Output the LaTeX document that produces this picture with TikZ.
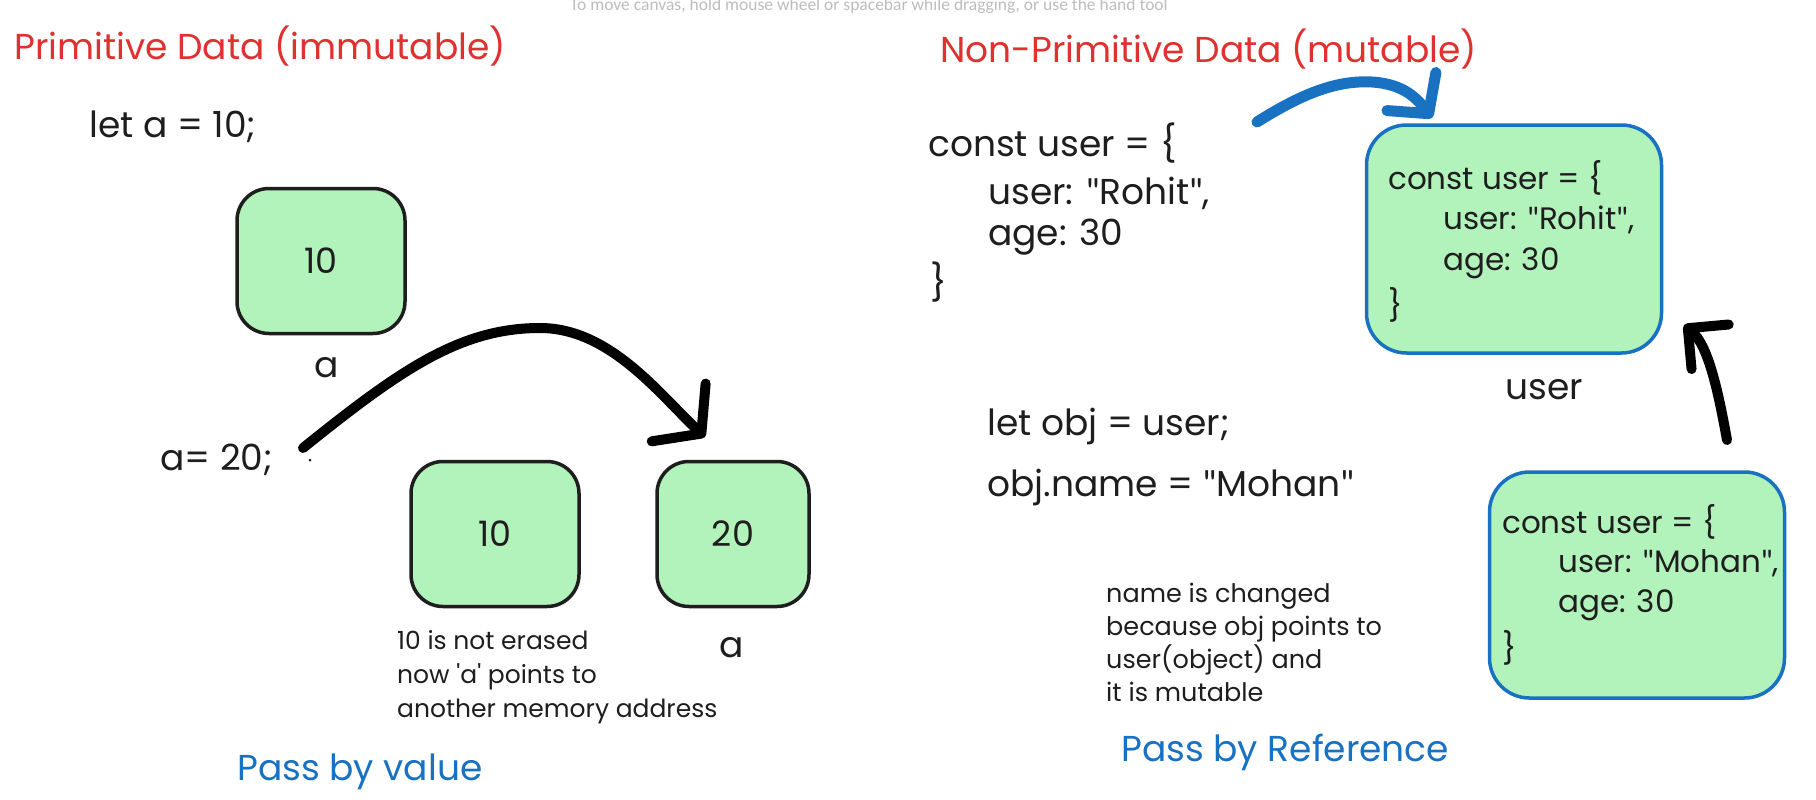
\documentclass[tikz,border=0pt]{standalone}
\usepackage{fontspec}
\setmainfont{Poppins}
\newfontfamily\hintfont{Carlito}
\newfontfamily\quotefont{Lato}
\newcommand{\dq}{{\quotefont"}}
\usetikzlibrary{arrows.meta, positioning, calc}

\definecolor{exred}{HTML}{E03131}
\definecolor{exblue}{HTML}{1971C2}
\definecolor{exgreen}{HTML}{B2F2BB}
\definecolor{exink}{HTML}{1E1E1E}
\definecolor{hintgray}{HTML}{BDBDBD}

\begin{document}
\begin{tikzpicture}[x=1pt, y=-1pt,
    title/.style={text=exred, font=\fontsize{36}{40}\selectfont, anchor=west, inner sep=0pt},
    footer/.style={text=exblue, font=\fontsize{36}{40}\selectfont, anchor=west, inner sep=0pt},
    code/.style={text=exink, font=\fontsize{36}{40}\selectfont, anchor=west, inner sep=0pt},
    boxcode/.style={text=exink, font=\fontsize{31}{34}\selectfont, anchor=west, inner sep=0pt},
    note/.style={text=exink, font=\fontsize{25}{34}\selectfont, align=left, anchor=west, inner sep=0pt},
    cell/.style={draw=exink, fill=exgreen, line width=3.5pt, rounded corners=32pt,
        text=exink, font=\fontsize{35}{40}\selectfont},
    objcell/.style={draw=exblue, fill=exgreen, line width=3.5pt, rounded corners=40pt},
    hand/.style={line width=10pt, line cap=round, line join=round}
]
\path[use as bounding box, fill=white] (0,0) rectangle (1816,800);

% canvas hint
\node[text=hintgray, font=\hintfont\fontsize{17.5}{20}\selectfont, anchor=base west, inner sep=0pt]
    (hint) at (570,11) {To move canvas, hold mouse wheel or spacebar while dragging, or use the hand tool};

% primitive side
\node[title] (primTitle) at (14,46) {Primitive Data (immutable)};
\node[code] (letA) at (89,127) {let a = 10;};
\node[cell, minimum width=168pt, minimum height=145pt] (cellA) at (321,261) {10};
\node[code] (nameA) at (314,368) {a};
\node[code] (assign) at (160,460) {a= 20;};
\node[cell, minimum width=168pt, minimum height=145pt] (cellOld) at (495,534) {10};
\node[cell, minimum width=152pt, minimum height=145pt] (cellNew) at (733,534) {20};
\node[note] (primNote) at (397,677) {10 is not erased\\now \textquotesingle a\textquotesingle{} points to\\another memory address};
\node[code] (nameNew) at (719,648) {a};
\node[footer] (byValue) at (237,772) {Pass by value};

\coordinate (jumpStart) at (303,448);
\coordinate (jumpEnd) at (705,437);
\fill[exink] (310,460) circle (1.5pt);
\draw[hand, -{Straight Barb[length=31pt, width=79pt, round]}] (jumpStart)
    .. controls (400,370) and (460,328) .. (540,328)
    .. controls (610,328) and (660,395) .. (jumpEnd);

% non-primitive side
\node[title] (refTitle) at (940,49) {Non-Primitive Data (mutable)};
\node[code] (src1) at (928,143) {const user = \{};
\node[code] (src2) at (988,193) {user: \dq Rohit\dq,};
\node[code] (src3) at (988,237) {age: 30};
\node[code] (src4) at (930,282) {\}};

\node[objcell, minimum width=295pt, minimum height=228pt] (memD) at (1514,239) {};
\node[boxcode] (memD1) at (1388,178) {const user = \{};
\node[boxcode] (memD2) at (1443,220) {user: \dq Rohit\dq,};
\node[boxcode] (memD3) at (1443,263) {age: 30};
\node[boxcode] (memD4) at (1388,305) {\}};
\node[code] (nameD) at (1505,390) {user};

\node[code] (letObj) at (987,426) {let obj = user;};
\node[code] (setName) at (987,487) {obj.name = \dq Mohan\dq};
\node[note, font=\fontsize{25.5}{33}\selectfont] (refNote) at (1106,642) {name is changed\\because obj points to\\user(object) and\\it is mutable};

\node[objcell, minimum width=295pt, minimum height=226pt] (memE) at (1637,585) {};
\node[boxcode] (memE1) at (1502,522) {const user = \{};
\node[boxcode] (memE2) at (1558,563) {user: \dq Mohan\dq,};
\node[boxcode] (memE3) at (1558,605) {age: 30};
\node[boxcode] (memE4) at (1502,648) {\}};
\node[footer] (byRef) at (1121,752) {Pass by Reference};

\coordinate (refStart) at (1257,122);
\coordinate (refEnd) at (1432,118);
\draw[hand, exblue, line width=11pt, -{Straight Barb[length=28pt, width=62pt, round]}] (refStart)
    .. controls (1300,95) and (1335,80) .. (1372,82)
    .. controls (1405,84) and (1418,100) .. (refEnd);

\coordinate (backStart) at (1727,440);
\coordinate (backEnd) at (1684,325);
\draw[hand, -{Straight Barb[length=29pt, width=58pt, round]}] (backStart)
    .. controls (1718,390) and (1708,345) .. (backEnd);
\end{tikzpicture}
\end{document}
